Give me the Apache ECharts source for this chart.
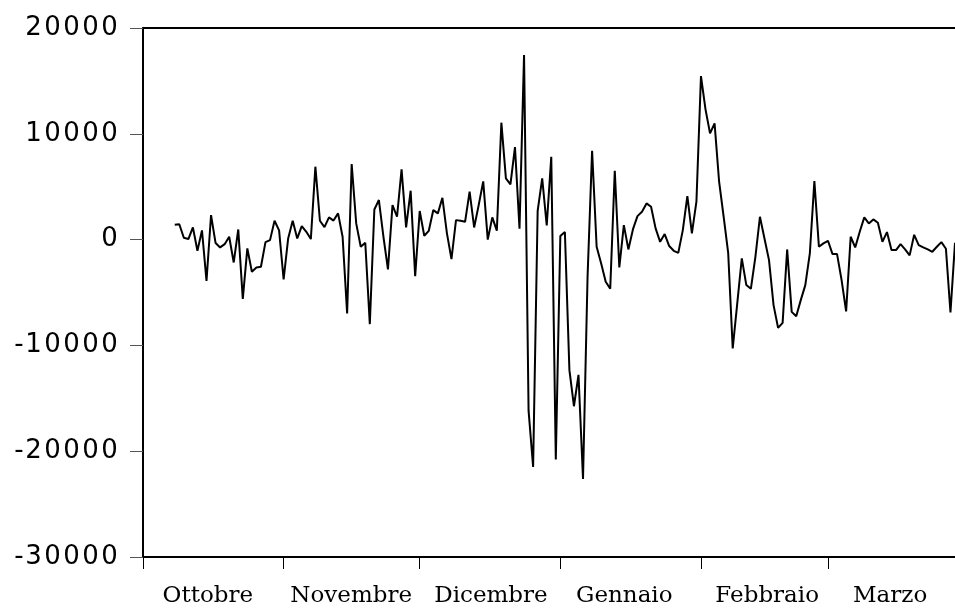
<!DOCTYPE html>
<html>
<head>
<meta charset="utf-8">
<script src="https://cdn.jsdelivr.net/npm/echarts@6/dist/echarts.min.js"></script>
<style>
  html, body { margin: 0; padding: 0; background: #fff; }
  #chart { width: 955px; height: 609px; }
</style>
</head>
<body>
<div id="chart"></div>
<script>
// Month names shown under the axis
const monthNames = ['Ottobre', 'Novembre', 'Dicembre', 'Gennaio', 'Febbraio', 'Marzo'];
// Day offsets (Oct 1 = 0) where each month starts (tick marks)
const monthStartDays = [0, 31, 61, 92, 123, 151];
// Day offsets where each month label is centred
const monthLabelDays = [14.3, 45.9, 76.7, 106.1, 137.6, 164.7];
// Last visible day offset (the picture is cut at the right edge)
const lastVisibleDay = 179;
// Day offset of the first observation
const firstDay = 7;
// Daily observations
const values = [
  1400, 1450, 170, 50, 1150, -1060, 870, -3900, 2320, -330,
  -740, -430, 270, -2160, 960, -5600, -830, -3040, -2630, -2570,
  -240, -50, 1780, 870, -3770, 110, 1780, 110, 1280, 740,
  50, 6890, 1780, 1180, 2100, 1800, 2480, 270, -6980, 7140,
  1530, -680, -300, -7990, 2850, 3740, 270, -2820, 3260, 2160,
  6640, 1150, 4620, -3450, 2700, 360, 830, 2790, 2480, 3950,
  590, -1840, 1840, 1780, 1680, 4540, 1150, 3260, 5500, 0,
  2100, 850, 11050, 5790, 5220, 8750, 1020, 17450, -16190, -21490,
  2720, 5790, 1340, 7830, -20790, 330, 710, -12340, -15750, -12790,
  -22620, -3520, 8400, -680, -2250, -3990, -4650, 6510, -2630, 1370,
  -930, 960, 2220, 2630, 3420, 3100, 1060, -210, 520, -610,
  -1060, -1250, 900, 4110, 590, 3580, 15460, 12310, 10040, 10990,
  5470, 2160, -1250, -10290, -6030, -1780, -4300, -4650, -1630, 2160,
  110, -1940, -6190, -8340, -7870, -930, -6830, -7240, -5720, -4300,
  -1310, 5530, -680, -360, -110, -1370, -1370, -3830, -6790, 270,
  -740, 740, 2100, 1530, 1910, 1590, -210, 710, -990, -990,
  -430, -930, -1490, 450, -520, -740, -930, -1150, -680, -240,
  -870, -6890, -300
];
// Y axis range and step
const yMin = -30000, yMax = 20000, yStep = 10000;

const seriesData = values.map((v, i) => [firstDay + i, v]);

const yFont = { fontFamily: 'DejaVu Sans', fontSize: 26, color: '#000' };

const chart = echarts.init(document.getElementById('chart'), null, { renderer: 'canvas' });
chart.setOption({
  animation: false,
  backgroundColor: '#ffffff',
  grid: { left: 143, top: 28, bottom: 52, right: 0, show: false },
  xAxis: [{
    type: 'value',
    min: monthStartDays[0],
    max: lastVisibleDay,
    splitLine: { show: false },
    axisLine: { show: true, onZero: false, lineStyle: { color: '#000', width: 2 } },
    axisTick: {
      show: true, length: 12, inside: false,
      customValues: monthStartDays,
      lineStyle: { color: '#000', width: 1 }
    },
    axisLabel: {
      show: true,
      customValues: monthLabelDays,
      formatter: (v) => {
        const idx = monthLabelDays.indexOf(v);
        return idx >= 0 ? monthNames[idx] : '';
      },
      margin: 28,
      fontFamily: 'DejaVu Serif',
      fontSize: 23,
      color: '#000'
    }
  }, {
    type: 'value',
    position: 'top',
    min: monthStartDays[0],
    max: lastVisibleDay,
    splitLine: { show: false },
    axisLine: { show: true, onZero: false, lineStyle: { color: '#000', width: 2 } },
    axisTick: { show: false },
    axisLabel: { show: false }
  }],
  yAxis: {
    type: 'value',
    min: yMin, max: yMax, interval: yStep,
    splitLine: { show: false },
    axisLine: { show: true, onZero: false, lineStyle: { color: '#000', width: 2 } },
    axisTick: { show: true, length: 13, lineStyle: { color: '#555', width: 1 } },
    axisLabel: {
      margin: 24,
      formatter: (v) => String(v).split('').map(c => c === '-' ? '{m|-}' : '{d|' + c + '}').join(''),
      rich: {
        d: Object.assign({ width: 19, align: 'center' }, yFont),
        m: Object.assign({ width: 10, align: 'center' }, yFont)
      }
    }
  },
  series: [{
    type: 'line',
    xAxisIndex: 0,
    data: seriesData,
    showSymbol: false,
    symbol: 'none',
    clip: true,
    lineStyle: { color: '#000', width: 2 }
  }]
});
</script>
</body>
</html>
